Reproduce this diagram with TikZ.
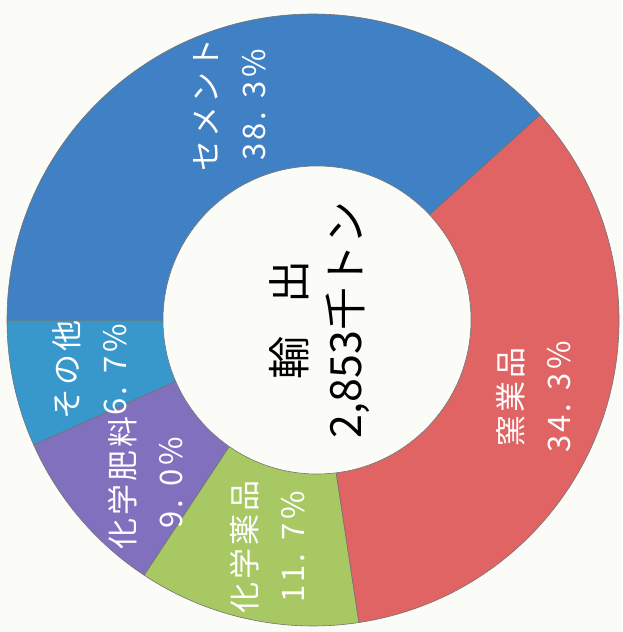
\documentclass[tikz,border=0pt]{standalone}
\usepackage{fontspec}
\setmainfont{Noto Sans CJK JP}
\newfontfamily\sharefont[LetterSpace=10]{Noto Sans CJK JP}
\usetikzlibrary{positioning}

\definecolor{paper}{RGB}{251,251,248}
\definecolor{cement}{RGB}{64,128,196}
\definecolor{ceramic}{RGB}{224,100,100}
\definecolor{chemical}{RGB}{168,200,100}
\definecolor{fertilizer}{RGB}{128,112,190}
\definecolor{others}{RGB}{56,152,204}

\begin{document}
\begin{tikzpicture}[
        x=1pt, y=1pt,
        slice/.style={draw=black!55, line width=0.6pt, line join=round},
        hole/.style={fill=paper, draw=black!55, line width=0.6pt},
        share/.style={rotate=90, text=white, align=center, inner sep=0pt,
                      font=\sharefont\fontsize{31}{48}\selectfont},
        total/.style={rotate=90, text=black, align=center, inner sep=0pt,
                      font=\fontsize{43}{56}\selectfont}
      ]

      % background and size
      \fill[paper] (0,0) rectangle (622,632);
      \useasboundingbox (0,0) rectangle (622,632);

      \coordinate (c) at (313,312);

      % Slices (angles from the shares)
      \filldraw[slice, fill=others] (c) -- ++(180:306pt) arc[start angle=180, end angle=204.12, radius=306pt] -- cycle;
      \filldraw[slice, fill=fertilizer] (c) -- ++(204.12:306pt) arc[start angle=204.12, end angle=236.52, radius=306pt] -- cycle;
      \filldraw[slice, fill=chemical] (c) -- ++(236.52:306pt) arc[start angle=236.52, end angle=278.64, radius=306pt] -- cycle;
      \filldraw[slice, fill=ceramic] (c) -- ++(278.64:306pt) arc[start angle=278.64, end angle=402.12, radius=306pt] -- cycle;
      \filldraw[slice, fill=cement] (c) -- ++(42.12:306pt) arc[start angle=42.12, end angle=180, radius=306pt] -- cycle;

      % Hole
      \filldraw[hole] (317,312) circle[radius=154pt];

      % Labels
      \node (total_lbl) [total] at (319,312) {輸\hspace{0.75em}出\\2,853千トン};
      \node (cement_lbl) [share] at (230,527) {セメント\\38. 3\%};
      \node (ceramic_lbl) [share] at (534,235) {窯業品\\34. 3\%};
      \node (chemical_lbl) [share] at (268,85) {化学薬品\\11. 7\%};
      \node (fertilizer_lbl) [share] at (146,149) {化学肥料\\9. 0\%};
      \node (others_lbl) [share] at (90,262) {その他\\6. 7\%};

    \end{tikzpicture}
\end{document}
